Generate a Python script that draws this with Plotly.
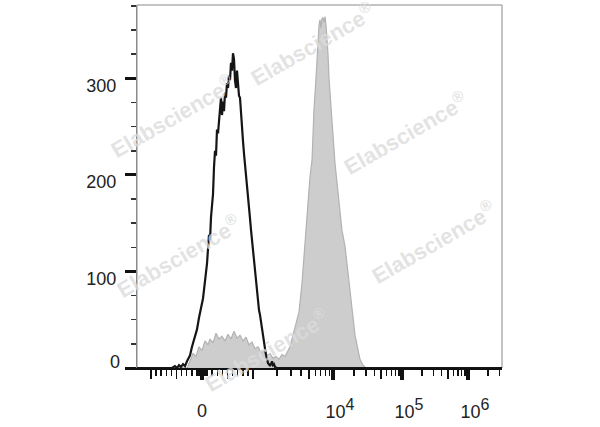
import numpy as np
import plotly.graph_objects as go

# ---------------- data (display channels 0..730, counts) ----------------
black_ch = [0, 70, 76, 80, 84, 88, 92, 96, 100, 106, 110, 116, 120, 124, 128, 132, 136, 140,
            144, 146, 148, 150, 152, 154, 156, 158, 160, 162, 164, 166, 168, 170, 172, 174,
            176, 178, 180, 182, 184, 186, 188, 190, 192, 194, 196, 198, 200, 202, 204, 206,
            208, 210, 212, 214, 216, 218, 220, 222, 224, 226, 228, 230, 232, 234, 236, 238,
            240, 242, 244, 246, 248, 250, 252, 254, 256, 258, 260, 262, 264, 266, 268, 270,
            272, 274, 276, 280, 730]
black_counts = [0, 0, 2, 0, 3, 1, 4, 2, 7, 13, 22, 34, 40, 52, 62, 72, 90, 108,
                138, 132, 156, 165, 180, 208, 225, 220, 247, 243, 262, 268, 280, 262, 276, 266,
                285, 280, 295, 290, 303, 298, 316, 308, 326, 320, 298, 290, 308, 295, 282, 280,
                262, 248, 235, 222, 212, 200, 188, 177, 166, 155, 143, 132, 120, 109, 98, 86,
                74, 66, 60, 55, 47, 39, 32, 26, 20, 14, 9, 5, 4, 2, 4, 7,
                3, 4, 1, 0, 0]

gray_ch = [0, 100, 102, 106, 112, 118, 124, 130, 136, 142, 146, 152, 158, 164, 170, 176, 182,
           188, 194, 200, 206, 212, 218, 224, 230, 236, 242, 248, 254, 260, 266, 272, 278,
           284, 290, 296, 302, 306, 312, 318, 324, 330, 336, 342, 346, 350, 352, 354, 358,
           360, 362, 364, 366, 368, 370, 372, 374, 376, 378, 380, 382, 384, 386, 388, 392,
           396, 400, 406, 410, 412, 414, 416, 420, 426, 432, 436, 440, 446, 452, 458, 730]
gray_counts = [0, 0, 2, 8, 15, 12, 22, 18, 28, 24, 30, 26, 36, 30, 33, 28, 35,
               30, 38, 31, 34, 28, 32, 24, 27, 20, 22, 16, 18, 13, 15, 10, 12,
               9, 14, 12, 18, 22, 34, 45, 58, 88, 133, 174, 198, 215, 245, 268, 300,
               318, 347, 355, 361, 352, 362, 363, 358, 364, 355, 343, 325, 300, 285, 262, 240,
               212, 192, 160, 142, 137, 133, 126, 108, 80, 52, 34, 24, 9, 3, 0, 0]

# axis: biexponential-like display
major_vals = [0, 1e4, 1e5, 1e6]
SUP = "<sup><span style='font-size:16px'>{}</span></sup>"
major_text = ["", "10" + SUP.format(4), "10" + SUP.format(5), "10" + SUP.format(6)]
medium_vals = [-1000, -500, 500, 1000, 5000, 5e4, 5e5]
minor_vals = ([v for v in range(-90, 100, 10) if v != 0]
              + [v for v in range(-900, 1000, 100) if v not in (0, -500, 500)]
              + [m * 10 ** e for e in (3, 4, 5) for m in (2, 3, 4, 6, 7, 8, 9)]
              + [2e6, 3e6])
y_ticks = [0, 100, 200, 300]
watermark = "Elabscience<sup>®</sup>"
wm_pos = [(172, 116), (312, 44), (405, 133), (178, 256), (433, 242), (266, 350)]

ZERO_CH, LIN_SLOPE = 130.0, 0.102
DEC_EXP = [3, 4, 5, 6, 7]
DEC_CH = [232, 392, 530, 662, 794]


def disp(v):
    if abs(v) <= 1000:
        return ZERO_CH + LIN_SLOPE * v
    return float(np.interp(np.log10(v), DEC_EXP, DEC_CH))


XR = [0, 730]
YR = [0, 376]
FONT = "Liberation Sans, Arial, sans-serif"

fig = go.Figure()
fig.add_trace(go.Scatter(x=gray_ch, y=gray_counts, mode="lines", fill="tozeroy",
                         fillcolor="#cdcdcd", line=dict(color="#b2b2b2", width=1.2),
                         hoverinfo="skip", showlegend=False))
fig.add_trace(go.Scatter(x=black_ch, y=black_counts, mode="lines",
                         line=dict(color="#151515", width=2.2),
                         hoverinfo="skip", showlegend=False))
fig.add_trace(go.Scatter(x=[], y=[], xaxis="x2", yaxis="y2", showlegend=False))

tickfont = dict(family=FONT, size=18, color="#222222")
fig.update_layout(
    width=600, height=427,
    margin=dict(l=137, r=98, t=5, b=59),
    paper_bgcolor="white", plot_bgcolor="rgba(0,0,0,0)",
    hovermode=False,
    xaxis=dict(range=XR, showgrid=False, zeroline=False, showline=True,
               linecolor="#111111", linewidth=2,
               tickmode="array", tickvals=[disp(v) for v in major_vals], ticktext=major_text,
               ticks="outside", ticklen=10, tickwidth=3.5, tickcolor="#111111",
               tickfont=tickfont, ticklabelstandoff=16, ticklabelshift=7,
               minor=dict(tickmode="array", tickvals=[disp(v) for v in minor_vals],
                          ticks="outside", ticklen=5.5, tickwidth=1.5, tickcolor="#111111",
                          showgrid=False)),
    xaxis2=dict(range=XR, overlaying="x", side="bottom", showgrid=False, zeroline=False,
                showline=False, tickmode="array",
                tickvals=[disp(v) for v in medium_vals] + [disp(0)],
                ticktext=[""] * len(medium_vals) + ["0"],
                ticks="outside", ticklen=10, tickwidth=1.5, tickcolor="#111111",
                tickfont=tickfont, ticklabelstandoff=16),
    yaxis=dict(range=YR, showgrid=False, zeroline=False, showline=True,
               linecolor="#8a8a8a", linewidth=1,
               tickmode="array", tickvals=y_ticks, ticktext=[""] + [str(v) for v in y_ticks[1:]],
               ticks="outside", ticklen=11, tickwidth=3, tickcolor="#111111",
               tickfont=tickfont, ticklabelstandoff=5, ticklabelshift=7,
               minor=dict(dtick=25, tick0=0, ticks="outside", ticklen=5, tickwidth=1.5,
                          tickcolor="#333333", showgrid=False)),
    yaxis2=dict(range=YR, overlaying="y", side="left", showgrid=False, zeroline=False,
                showline=False, tickmode="array", tickvals=[0], ticktext=["0"],
                ticks="", tickfont=tickfont, ticklabelstandoff=16, ticklabelshift=-6),
    shapes=[dict(type="rect", xref="paper", yref="paper", x0=0, x1=1, y0=0, y1=1,
                 line=dict(color="#8a8a8a", width=1), layer="below")],
)

for (px, py) in wm_pos:
    fig.add_annotation(x=(px - 137) / 365, y=(368 - py) / 363, xref="paper", yref="paper",
                       text=watermark, showarrow=False, textangle=-30,
                       font=dict(family=FONT, size=22, weight="bold",
                                 color="rgba(220,220,220,0.8)"),
                       xanchor="center", yanchor="middle")

fig.write_html("out.html", config={"displayModeBar": False, "staticPlot": True},
               post_script="document.body.style.margin='0';")
